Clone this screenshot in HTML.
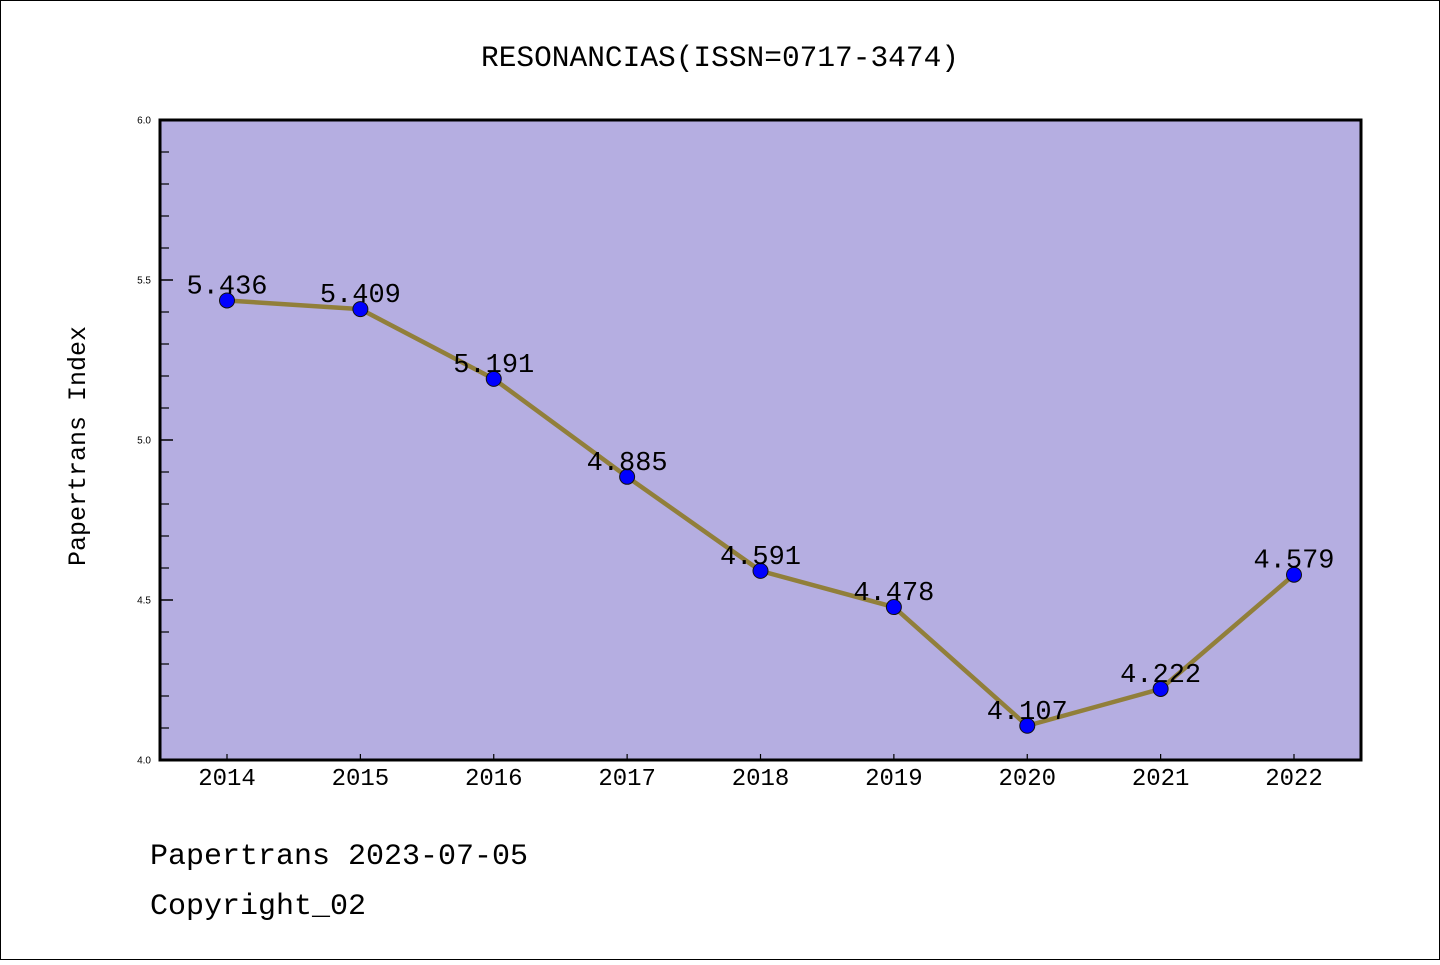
<!DOCTYPE html>
<html><head><meta charset="utf-8"><style>
html,body{margin:0;padding:0;background:#fff}
svg text{font-family:"Liberation Mono","Noto Sans CJK SC",monospace}
svg text.yt{font-family:"Liberation Sans",sans-serif}
</style></head><body>
<svg width="1440" height="960" xmlns="http://www.w3.org/2000/svg">
<rect x="0.5" y="0.5" width="1439" height="959" fill="#fff" stroke="#000"/>
<text x="720" y="66" font-size="29.5" text-anchor="middle">RESONANCIAS(ISSN=0717-3474)</text>
<rect x="160" y="120" width="1201" height="640" fill="#b5aee1"/>
<g id="axes"></g>
<g id="series"></g>
<rect x="160" y="120" width="1201" height="640" fill="none" stroke="#000" stroke-width="3"/>
<text transform="translate(85,446) rotate(-90)" font-size="25" text-anchor="middle">Papertrans Index</text>
<text x="150" y="864" font-size="30">Papertrans 2023-07-05</text>
<text x="150" y="914" font-size="30">Copyright_02</text>
</svg>
<script>
const years=["2014","2015","2016","2017","2018","2019","2020","2021","2022"];
const values=[5.436,5.409,5.191,4.885,4.591,4.478,4.107,4.222,4.579];
const yTicks=[4.0,4.5,5.0,5.5,6.0];
const yMinor=[4.1,4.2,4.3,4.4,4.6,4.7,4.8,4.9,5.1,5.2,5.3,5.4,5.6,5.7,5.8,5.9];
const NS="http://www.w3.org/2000/svg";
function X(i){return 227+i*(1294-227)/(years.length-1);}
function Y(v){return 760-(v-4.0)*320;}
function mk(t,a,p){const e=document.createElementNS(NS,t);for(const k in a)e.setAttribute(k,a[k]);p.appendChild(e);return e;}
const ax=document.getElementById('axes'),se=document.getElementById('series');
yTicks.forEach(v=>{
 const l=mk('line',{x1:160,x2:173,y1:Y(v),y2:Y(v),stroke:'#000','stroke-width':1.5},ax);
 
 
 const t=mk('text',{x:151,y:Y(v)+3.5,'font-size':10,'text-anchor':'end','class':'yt'},ax);t.textContent=v.toFixed(1);
 
 
});
yMinor.forEach(v=>{
 const l=mk('line',{x1:160,x2:169,y1:Y(v),y2:Y(v),stroke:'#000','stroke-width':1.2},ax);
 
 
});
years.forEach((y,i)=>{
 const l=mk('line',{x1:X(i),x2:X(i),y1:760,y2:754,stroke:'#000','stroke-width':1.2},ax);
 
 
 const t=mk('text',{x:X(i),y:785,'font-size':24,'text-anchor':'middle'},ax);t.textContent=y;
 
 
});
const pl=mk('polyline',{points:values.map((v,i)=>X(i)+','+Y(v)).join(' '),fill:'none',stroke:'#917f3a','stroke-width':4.5,'stroke-linejoin':'round'},se);


values.forEach((v,i)=>{
 const c=mk('circle',{cx:X(i),cy:Y(v),r:7.5,fill:'#0000ff',stroke:'#111','stroke-width':1},se);
 
 
 const t=mk('text',{x:X(i),y:Y(v)-7,'font-size':27,'text-anchor':'middle'},se);t.textContent=v.toFixed(3);
 
 
});
</script>
</body></html>
